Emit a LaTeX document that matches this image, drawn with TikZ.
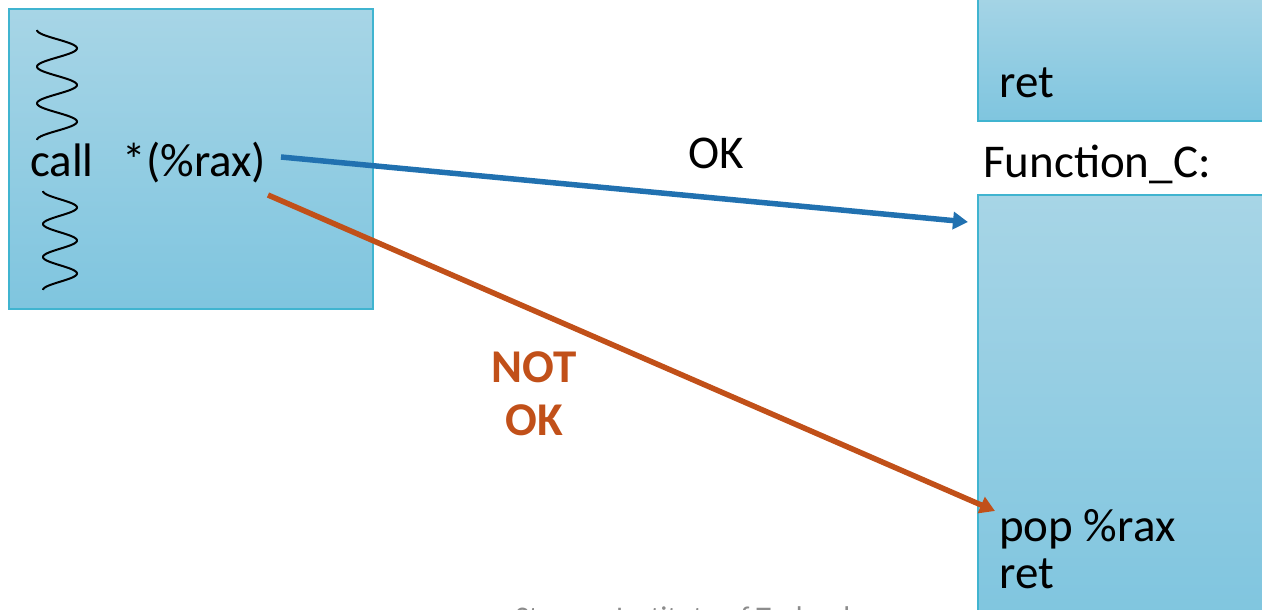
\documentclass[tikz,border=0pt]{standalone}
\usepackage{fontspec}
\setmainfont{Carlito}
\usetikzlibrary{arrows.meta}
\definecolor{boxtop}{RGB}{167,213,230}
\definecolor{boxbot}{RGB}{127,197,223}
\definecolor{boxedge}{RGB}{64,180,208}
\definecolor{okblue}{RGB}{33,113,176}
\definecolor{notok}{RGB}{193,80,25}
\definecolor{footgray}{RGB}{140,140,140}
\tikzset{
  codebox/.style={draw=boxedge, line width=2pt, top color=boxtop, bottom color=boxbot},
  code/.style={font=\fontsize{47}{56}\selectfont, inner sep=0pt, anchor=base west},
  conn/.style={line width=5.5pt, -{Triangle[length=15pt,width=17pt]}},
  squig/.style={line width=2pt, black}
}
\begin{document}
\begin{tikzpicture}[x=1pt,y=-1pt]
\useasboundingbox (0,0) rectangle (1262,610);
% boxes
\path[codebox] (9,9) rectangle (373,309);
\path[codebox] (978,-10) rectangle (1275,121);
\path[codebox] (978,195) rectangle (1275,625);
% squiggles
\draw[squig] plot[domain=0:6, samples=120, smooth] ({57-20*cos(180*\x)}, {30+\x*18.33});
\draw[squig] plot[domain=0:6, samples=120, smooth] ({60-17*cos(180*\x)}, {191+\x*16.5});
% texts
\node[code] (call) at (30,176) {call\ \ \,*(\%rax)};
\node[code] (ret1) at (999,98) {ret};
\node[code] (func) at (983,177) {Function\_C:};
\node[code] (pop) at (999,541) {pop \%rax};
\node[code] (ret2) at (999,588) {ret};
\node[code] (ok) at (688,168) {OK};
\node[font=\fontsize{47}{53}\selectfont\bfseries, text=notok, align=center, inner sep=0pt, anchor=base] (notoklbl) at (534,435) {NOT\\OK};
\node[font=\fontsize{30}{36}\selectfont, text=footgray, inner sep=0pt, anchor=base west] (foot) at (515,627) {Stevens Institute of Technology};
% connectors
\coordinate (okstart) at (281,157);
\coordinate (okend) at (968,222);
\coordinate (nstart) at (268,195);
\coordinate (nend) at (995,511);
\draw[conn, okblue] (okstart) -- (okend);
\draw[conn, notok] (nstart) -- (nend);
\end{tikzpicture}
\end{document}
